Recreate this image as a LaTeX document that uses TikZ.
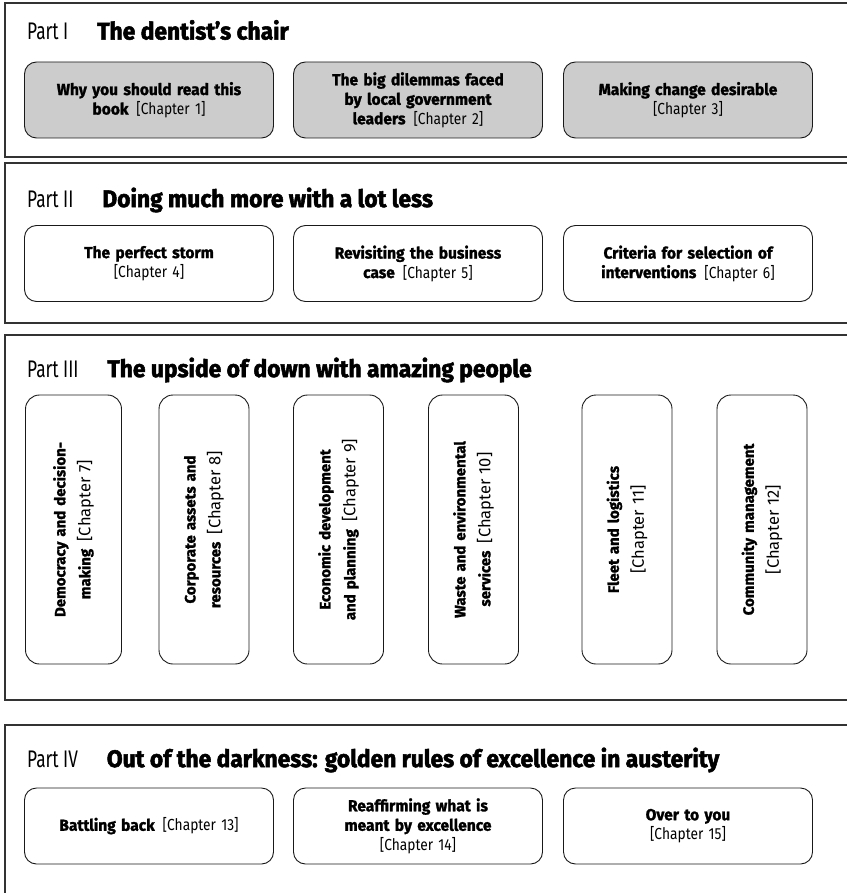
\documentclass[tikz,border=0pt]{standalone}
\usepackage{fontspec}
\setmainfont{Fira Sans}[FakeStretch=0.86]
\newfontfamily\boxbold{Fira Sans}[FakeStretch=0.97, BoldFeatures={FakeBold=1.4}]
\newfontfamily\vfont{Fira Sans}[FakeStretch=1.0, BoldFeatures={FakeBold=1.5}]
\newfontfamily\ttlfont{Fira Sans}[FakeStretch=0.95, BoldFeatures={FakeBold=2.2}]
\newfontfamily\partfont{Fira Sans}[FakeStretch=0.72]
\newcommand\bt[1]{{\boxbold\bfseries #1}}
\newcommand\vch[1]{{\mdseries\fontsize{16.5}{25}\selectfont #1}}
\newcommand\ptitle[2]{{\partfont #1}\hspace{29pt}{\ttlfont\bfseries #2}}
\begin{document}
\begin{tikzpicture}[x=1pt,y=-1pt,
  frame/.style={draw=black!80, line width=1.4pt},
  chbox/.style={draw=black!90, line width=0.9pt, rounded corners=12pt,
    minimum width=249pt, minimum height=76pt, text width=240pt, align=center,
    inner sep=0pt, font=\fontsize{16}{19.5}\selectfont},
  greybox/.style={chbox, fill=black!20},
  vbox/.style={draw=black!90, line width=0.9pt, rounded corners=14pt, rotate=90,
    minimum width=269pt, minimum height=90pt, text width=255pt, align=center,
    inner sep=0pt, font=\vfont\fontsize{15}{25}\selectfont},
  parttitle/.style={anchor=west, inner sep=0pt, font=\fontsize{24}{28}\selectfont}]
\useasboundingbox (0,0) rectangle (846,893);
% frames (right side beyond picture)
\draw[frame] (860,3) -- (5,3) -- (5,157) -- (860,157);
\draw[frame] (860,163) -- (5,163) -- (5,323) -- (860,323);
\draw[frame] (860,335) -- (5,335) -- (5,700) -- (860,700);
\draw[frame] (860,725) -- (5,725) -- (5,900);
% Part I
\node[parttitle] (t1) at (27,30) {\ptitle{Part I}{The dentist’s chair}};
\node[greybox] (c1) at (149,100) {\bt{Why you should read this\\ book}\enspace{[Chapter 1]}};
\node[greybox] (c2) at (418,100) {\bt{The big dilemmas faced\\ by local government\\ leaders}\enspace{[Chapter 2]}};
\node[greybox] (c3) at (688,100) {\bt{Making change desirable}\\ {[Chapter 3]}};
% Part II
\node[parttitle] (t2) at (27,200) {\ptitle{Part II}{Doing much more with a lot less}};
\node[chbox] (c4) at (149,263.5) {\bt{The perfect storm}\\ {[Chapter 4]}};
\node[chbox] (c5) at (418,263.5) {\bt{Revisiting the business\\ case}\enspace{[Chapter 5]}};
\node[chbox] (c6) at (688,263.5) {\bt{Criteria for selection of\\ interventions}\enspace{[Chapter 6]}};
% Part III
\node[parttitle] (t3) at (27,370) {\ptitle{Part III}{The upside of down with amazing people}};
\node[vbox, minimum height=96pt] (c7) at (73.5,529.5) {\bfseries Democracy and decision-\\ making\enspace\vch{[Chapter 7]}};
\node[vbox] (c8) at (204,529.5) {\bfseries Corporate assets and\\ resources\enspace\vch{[Chapter 8]}};
\node[vbox] (c9) at (338.5,529.5) {\bfseries Economic development\\ and planning\enspace\vch{[Chapter 9]}};
\node[vbox] (c10) at (473.5,529.5) {\bfseries Waste and environmental\\ services\enspace\vch{[Chapter 10]}};
\node[vbox] (c11) at (627,529.5) {\bfseries Fleet and logistics\\ \vch{[Chapter 11]}};
\node[vbox] (c12) at (762,529.5) {\bfseries Community management\\ \vch{[Chapter 12]}};
% Part IV
\node[parttitle] (t4) at (27,760) {\ptitle{Part IV}{Out of the darkness: golden rules of excellence in austerity}};
\node[chbox] (c13) at (149,826) {\bt{Battling back}\enspace{[Chapter 13]}};
\node[chbox] (c14) at (418,826) {\bt{Reaffirming what is\\ meant by excellence}\\ {[Chapter 14]}};
\node[chbox] (c15) at (688,826) {\bt{Over to you}\\ {[Chapter 15]}};
\end{tikzpicture}
\end{document}
